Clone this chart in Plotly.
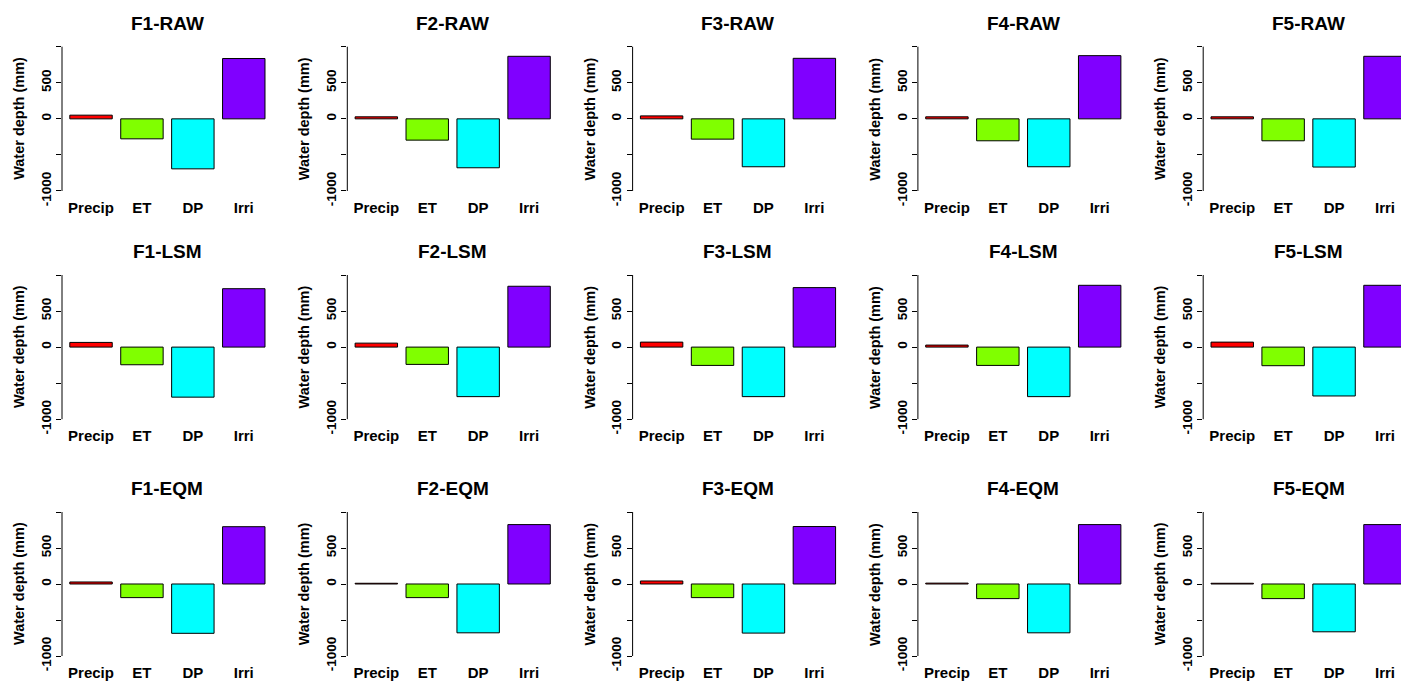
import plotly.graph_objects as go

# ---------------- data ----------------
categories = ["Precip", "ET", "DP", "Irri"]
models = ["F1", "F2", "F3", "F4", "F5"]
methods = ["RAW", "LSM", "EQM"]

precip_raw = [51, 28, 41, 28, 28]
precip_lsm = [65, 55, 69, 28, 69]
precip_eqm = [28, 10, 42, 12, 10]

et_raw = [-277, -295, -281, -304, -304]
et_lsm = [-245, -240, -254, -254, -258]
et_eqm = [-189, -189, -189, -203, -203]

dp_raw = [-693, -678, -664, -664, -668]
dp_lsm = [-694, -687, -687, -687, -678]
dp_eqm = [-685, -678, -682, -678, -664]

irri_raw = [836, 867, 839, 876, 867]
irri_lsm = [810, 844, 825, 857, 857]
irri_eqm = [796, 825, 798, 825, 825]

y_tickvals = [-1000, -500, 0, 500, 1000]
y_ticktext = ["-1000", "", "0", "500", ""]

bar_colors = ["#FF0000", "#80FF00", "#00FFFF", "#8000FF"]

data = {
    "RAW": [precip_raw, et_raw, dp_raw, irri_raw],
    "LSM": [precip_lsm, et_lsm, dp_lsm, irri_lsm],
    "EQM": [precip_eqm, et_eqm, dp_eqm, irri_eqm],
}

# ---------------- layout geometry (pixels) ----------------
W, H = 1401, 681
FONT = "Liberation Sans, Arial, Helvetica, sans-serif"
bar_x = [0.7, 1.9, 3.1, 4.3]
x_lo, x_hi = 0.016, 4.984
px_per_unit = 42.43
col_axis_px = [62 + 285.3 * c for c in range(5)]
row_tick_px = [(46.7, 191.0), (275.0, 419.2), (512.0, 656.0)]  # y pixel of +1000 / -1000

fig = go.Figure()
annotations = []
shapes = []
layout = {}

n = 0
for r, meth in enumerate(methods):
    t1000, tm1000 = row_tick_px[r]
    ppm = (tm1000 - t1000) / 2000.0
    top_px = t1000 - 80 * ppm
    bot_px = tm1000 + 80 * ppm
    for c, mod in enumerate(models):
        n += 1
        xa = "x" if n == 1 else f"x{n}"
        ya = "y" if n == 1 else f"y{n}"
        xkey = "xaxis" if n == 1 else f"xaxis{n}"
        ykey = "yaxis" if n == 1 else f"yaxis{n}"
        left_px = col_axis_px[c]
        right_px = left_px + (x_hi - x_lo) * px_per_unit
        xr_hi = x_hi
        if right_px > W:
            xr_hi = x_lo + (W - left_px) / px_per_unit
            right_px = W
        vals = [data[meth][k][c] for k in range(4)]
        fig.add_trace(go.Bar(
            x=bar_x, y=vals, width=1.0, xaxis=xa, yaxis=ya,
            marker=dict(color=bar_colors, line=dict(color="#000000", width=1)),
            showlegend=False, hoverinfo="skip",
        ))
        layout[xkey] = dict(
            domain=[left_px / W, right_px / W], range=[x_lo, xr_hi], anchor=ya,
            showgrid=False, zeroline=False, showline=False, ticks="",
            tickvals=bar_x, ticktext=categories,
            tickfont=dict(family=FONT, size=15, color="black", weight="bold"),
            fixedrange=True, automargin=False,
        )
        layout[ykey] = dict(
            domain=[1 - bot_px / H, 1 - top_px / H], range=[-1080, 1080], anchor=xa,
            showgrid=False, zeroline=False, showline=False,
            ticks="outside", ticklen=5, tickwidth=1, tickcolor="black",
            tickvals=y_tickvals, ticktext=y_ticktext, tickangle=-90,
            tickfont=dict(family=FONT, size=13.5, color="black", weight="bold"),
            fixedrange=True, automargin=False,
        )
        # R-style axis line from -1000 to 1000
        shapes.append(dict(type="line", xref=f"{xa} domain", yref=ya,
                           x0=0, x1=0, y0=-1000, y1=1000,
                           line=dict(color="black", width=1)))
        # Panel title
        annotations.append(dict(
            text=f"<b>{mod}-{meth}</b>", xref="paper", yref="paper",
            x=(left_px + (left_px + (x_hi - x_lo) * px_per_unit)) / 2 / W,
            y=1 - (top_px - 17.5) / H, xanchor="center", yanchor="middle",
            showarrow=False, font=dict(family=FONT, size=19, color="black"),
        ))
        # Y axis title
        annotations.append(dict(
            text="<b>Water depth (mm)</b>", xref="paper", yref="paper",
            x=(left_px - 43) / W, y=1 - ((top_px + bot_px) / 2) / H,
            xanchor="center", yanchor="middle", textangle=-90,
            showarrow=False, font=dict(family=FONT, size=14.5, color="black"),
        ))

fig.update_layout(
    width=W, height=H, margin=dict(l=0, r=0, t=0, b=0),
    paper_bgcolor="white", plot_bgcolor="white",
    annotations=annotations, shapes=shapes, showlegend=False,
    **layout,
)

fig.write_html(
    "out.html",
    config={"displayModeBar": False},
    post_script="document.body.style.margin='0';document.body.style.padding='0';document.body.style.overflow='hidden';",
)
